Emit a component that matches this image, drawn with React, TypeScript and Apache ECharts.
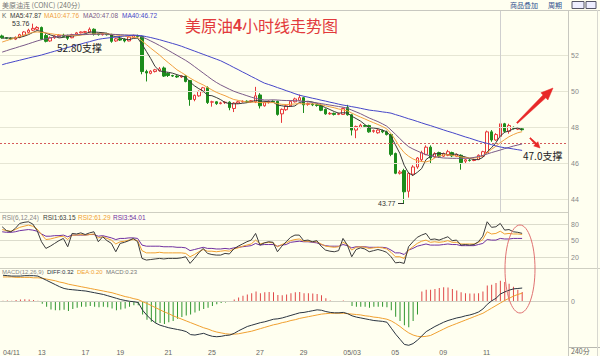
import React, { useEffect, useRef } from 'react';
import * as echarts from 'echarts';

// ---------- data ----------
const N = 130; // category slots (120 bars + empty space on the right)
const tickIndex = [0, 8, 18, 26, 37, 47, 58, 68, 78, 89, 100, 110];
const tickLabels = ['04/11', '13', '17', '19', '21', '25', '27', '29', '05/03', '05', '09', '11'];

const open = [
  53.08, 52.98, 52.95, 52.9, 53.0, 53.12, 53.28, 53.4, 53.45, 53.55,
  53.1, 52.8, 52.98, 53.05, 53.12, 53.1, 52.98, 53.18, 53.25, 53.28,
  53.3, 53.45, 53.2, 53.15, 53.2, 53.15, 52.8, 52.92, 52.9, 52.8,
  53.0, 53.1, 53.05, 51.1, 51.0, 51.1, 51.15, 51.3, 51.0, 50.88,
  50.85, 50.8, 50.85, 50.6, 49.55, 49.75, 49.98, 50.2, 49.4, 49.42,
  49.32, 49.38, 49.4, 49.05, 49.35, 49.42, 49.45, 49.42, 49.42, 49.8,
  49.2, 49.38, 49.45, 49.45, 48.75, 48.98, 49.2, 49.42, 49.5, 49.65,
  49.28, 49.3, 49.25, 49.22, 49.0, 48.75, 48.78, 48.72, 48.72, 49.1,
  48.7, 47.85, 48.0, 48.1, 48.1, 47.78, 47.7, 47.82, 47.75, 47.6,
  46.55, 45.45, 45.6, 44.45, 45.4, 45.8, 46.2, 46.5, 46.9, 46.35,
  46.6, 46.4, 46.45, 46.6, 46.4, 46.45, 46.12, 46.18, 46.16, 46.22,
  46.4, 46.6, 47.75, 47.3, 47.5, 48.2, 47.78, 48.0, 47.9, 47.92,
];
const close = [
  52.98, 52.95, 52.92, 53.0, 53.15, 53.3, 53.4, 53.5, 53.55, 52.9,
  52.78, 52.98, 53.08, 53.12, 53.05, 52.95, 53.15, 53.25, 53.3, 53.32,
  53.45, 53.18, 53.15, 53.22, 53.15, 52.78, 52.92, 52.85, 52.8, 53.02,
  53.1, 53.05, 51.1, 51.02, 51.12, 51.2, 51.25, 50.85, 50.88, 50.85,
  50.8, 50.86, 50.55, 49.55, 49.78, 50.0, 50.2, 49.38, 49.42, 49.32,
  49.36, 49.4, 49.1, 49.35, 49.42, 49.45, 49.42, 49.48, 49.75, 49.2,
  49.4, 49.45, 49.42, 48.72, 49.0, 49.2, 49.45, 49.58, 49.65, 49.25,
  49.32, 49.25, 49.22, 48.95, 48.75, 48.78, 48.72, 48.76, 49.05, 48.7,
  47.85, 48.05, 48.12, 48.06, 47.75, 47.82, 47.85, 47.75, 47.6, 46.5,
  45.45, 45.52, 44.42, 45.45, 45.8, 46.3, 46.6, 46.9, 46.3, 46.55,
  46.4, 46.55, 46.65, 46.42, 46.5, 46.05, 46.2, 46.16, 46.2, 46.45,
  46.65, 47.75, 47.3, 47.6, 48.2, 47.78, 48.1, 47.95, 47.98, 47.87,
];
const low = [
  52.92, 52.9, 52.85, 52.85, 52.95, 53.08, 53.22, 53.35, 53.4, 52.85,
  52.72, 52.75, 52.92, 53.0, 53.0, 52.85, 52.95, 53.15, 53.22, 53.25,
  53.25, 53.1, 53.1, 53.1, 53.1, 52.7, 52.75, 52.8, 52.72, 52.78,
  52.98, 52.98, 50.95, 50.55, 50.95, 51.05, 51.1, 50.8, 50.8, 50.8,
  50.75, 50.75, 50.5, 49.2, 49.45, 49.7, 49.95, 49.3, 49.15, 49.25,
  49.28, 49.3, 48.95, 48.85, 49.3, 49.38, 49.36, 49.38, 49.35, 49.05,
  49.15, 49.32, 49.38, 48.65, 48.25, 48.92, 49.15, 49.38, 49.45, 48.8,
  49.2, 49.18, 49.15, 48.9, 48.7, 48.7, 48.66, 48.68, 48.7, 48.65,
  47.55, 47.4, 47.95, 48.0, 47.7, 47.7, 47.65, 47.68, 47.55, 46.4,
  45.4, 45.38, 43.77, 44.1, 45.3, 45.7, 46.1, 46.45, 46.0, 46.3,
  46.3, 46.35, 46.4, 46.35, 46.35, 45.65, 46.0, 46.1, 46.12, 46.18,
  46.35, 46.55, 47.2, 47.25, 47.45, 47.7, 47.65, 47.88, 47.85, 47.82,
];
const high = [
  53.15, 53.02, 53.0, 53.05, 53.2, 53.35, 53.48, 53.76, 53.62, 53.6,
  53.2, 53.05, 53.12, 53.18, 53.2, 53.15, 53.2, 53.3, 53.33, 53.36,
  53.55, 53.5, 53.25, 53.27, 53.25, 53.2, 52.98, 52.98, 52.95, 53.08,
  53.15, 53.15, 53.1, 51.2, 51.18, 51.25, 51.35, 51.38, 51.05, 50.92,
  50.9, 50.9, 50.9, 50.62, 49.82, 50.05, 50.25, 50.28, 49.48, 49.45,
  49.42, 49.45, 49.45, 49.4, 49.48, 49.5, 49.5, 49.52, 50.25, 49.9,
  49.45, 49.5, 49.5, 49.48, 49.05, 49.25, 49.5, 49.65, 49.82, 49.7,
  49.38, 49.35, 49.3, 49.28, 49.05, 48.85, 48.82, 48.82, 49.1, 49.25,
  48.75, 48.1, 48.2, 48.15, 48.15, 47.88, 47.9, 47.88, 47.82, 47.65,
  46.6, 45.62, 45.7, 45.5, 45.9, 46.35, 46.7, 47.0, 47.0, 46.62,
  46.65, 46.6, 46.75, 46.65, 46.55, 46.5, 46.25, 46.24, 46.26, 46.5,
  46.7, 47.82, 47.85, 47.68, 48.3, 48.25, 48.2, 48.05, 48.02, 47.98,
];
const ma5 = [
  52.95, 52.97, 52.96, 52.96, 53.0, 53.06, 53.15, 53.27, 53.38, 53.33,
  53.23, 53.14, 53.06, 52.97, 53.0, 53.04, 53.07, 53.1, 53.14, 53.2,
  53.29, 53.3, 53.28, 53.26, 53.23, 53.1, 53.04, 52.98, 52.9, 52.87,
  52.94, 52.96, 52.62, 52.22, 51.82, 51.38, 51.14, 51.09, 51.06, 51.01,
  50.93, 50.85, 50.79, 50.52, 50.31, 50.15, 50.02, 49.78, 49.76, 49.66,
  49.54, 49.38, 49.32, 49.31, 49.31, 49.34, 49.37, 49.42, 49.5, 49.46,
  49.45, 49.42, 49.41, 49.24, 49.2, 49.16, 49.16, 49.19, 49.38, 49.43,
  49.45, 49.41, 49.34, 49.2, 49.1, 48.99, 48.88, 48.79, 48.81, 48.8,
  48.62, 48.49, 48.35, 48.16, 47.97, 47.96, 47.93, 47.85, 47.76, 47.5,
  47.03, 46.56, 45.9, 45.47, 45.33, 45.5, 45.71, 46.21, 46.39, 46.53,
  46.55, 46.54, 46.49, 46.51, 46.51, 46.41, 46.36, 46.27, 46.21, 46.21,
  46.33, 46.64, 46.87, 47.15, 47.52, 47.73, 47.8, 47.92, 47.96, 47.87,
];
const ma10 = [
  52.74, 52.82, 52.9, 52.97, 53.05, 53.12, 53.2, 53.28, 53.3, 53.28,
  53.25, 53.21, 53.17, 53.14, 53.12, 53.1, 53.1, 53.11, 53.13, 53.15,
  53.18, 53.19, 53.2, 53.21, 53.2, 53.17, 53.14, 53.1, 53.06, 53.03,
  53.01, 53.0, 52.8, 52.6, 52.4, 52.21, 52.02, 51.8, 51.6, 51.4,
  51.2, 51.05, 50.9, 50.74, 50.6, 50.47, 50.36, 50.22, 50.08, 49.95,
  49.85, 49.76, 49.65, 49.55, 49.5, 49.45, 49.41, 49.4, 49.4, 49.38,
  49.37, 49.37, 49.38, 49.32, 49.28, 49.27, 49.28, 49.3, 49.32, 49.31,
  49.3, 49.31, 49.3, 49.26, 49.2, 49.14, 49.09, 49.02, 48.97, 48.92,
  48.8, 48.68, 48.57, 48.47, 48.36, 48.26, 48.16, 48.05, 47.92, 47.65,
  47.3, 46.9, 46.6, 46.4, 46.25, 46.15, 46.1, 46.08, 46.15, 46.3,
  46.42, 46.47, 46.48, 46.45, 46.4, 46.36, 46.32, 46.3, 46.3, 46.33,
  46.42, 46.6, 46.78, 46.95, 47.15, 47.32, 47.48, 47.6, 47.7, 47.76,
];
const ma20 = [
  52.18, 52.26, 52.34, 52.41, 52.49, 52.56, 52.64, 52.72, 52.8, 52.87,
  52.92, 52.97, 53.02, 53.06, 53.1, 53.13, 53.14, 53.15, 53.16, 53.16,
  53.17, 53.17, 53.18, 53.18, 53.18, 53.17, 53.16, 53.15, 53.14, 53.13,
  53.12, 53.11, 53.02, 52.92, 52.8, 52.68, 52.55, 52.42, 52.28, 52.14,
  52.0, 51.86, 51.72, 51.56, 51.38, 51.2, 51.02, 50.84, 50.66, 50.5,
  50.36, 50.24, 50.12, 50.01, 49.92, 49.84, 49.76, 49.68, 49.61, 49.56,
  49.52, 49.52, 49.53, 49.52, 49.5, 49.49, 49.49, 49.48, 49.47, 49.45,
  49.42, 49.39, 49.36, 49.32, 49.28, 49.24, 49.2, 49.16, 49.12, 49.06,
  48.96, 48.86, 48.76, 48.64, 48.52, 48.42, 48.32, 48.2, 48.07, 47.85,
  47.62, 47.38, 47.14, 46.93, 46.8, 46.69, 46.58, 46.48, 46.42, 46.37,
  46.33, 46.3, 46.29, 46.28, 46.28, 46.28, 46.28, 46.29, 46.33, 46.38,
  46.44, 46.52, 46.6, 46.67, 46.74, 46.82, 46.89, 46.96, 47.02, 47.08,
];
const ma40 = [
  51.48, 51.55, 51.61, 51.67, 51.73, 51.79, 51.85, 51.91, 51.96, 52.02,
  52.09, 52.16, 52.23, 52.3, 52.37, 52.44, 52.5, 52.57, 52.63, 52.7,
  52.76, 52.83, 52.89, 52.93, 52.96, 52.99, 53.02, 53.05, 53.08, 53.1,
  53.12, 53.11, 53.09, 53.04, 52.99, 52.93, 52.87, 52.8, 52.73, 52.66,
  52.59, 52.51, 52.42, 52.33, 52.24, 52.15, 52.06, 51.97, 51.88, 51.79,
  51.7, 51.58, 51.46, 51.33, 51.21, 51.08, 50.96, 50.83, 50.71, 50.58,
  50.46, 50.38, 50.3, 50.21, 50.13, 50.04, 49.96, 49.87, 49.79, 49.73,
  49.68, 49.62, 49.57, 49.51, 49.46, 49.4, 49.35, 49.29, 49.24, 49.2,
  49.15, 49.11, 49.06, 49.01, 48.96, 48.93, 48.9, 48.86, 48.83, 48.79,
  48.71, 48.64, 48.56, 48.48, 48.41, 48.33, 48.25, 48.17, 48.1, 48.02,
  47.94, 47.86, 47.78, 47.71, 47.63, 47.55, 47.47, 47.4, 47.32, 47.24,
  47.17, 47.11, 47.04, 46.97, 46.91, 46.87, 46.84, 46.8, 46.76, 46.72,
];
const rsi1 = [
  75, 68, 66, 72, 81, 83, 84, 80, 68, 48,
  36, 40, 45, 50, 54, 39, 63, 62, 64, 61,
  64, 66, 48, 57, 50, 45, 30, 45, 47, 50,
  54, 48, 18, 15, 16, 17, 18, 17, 18, 18,
  18, 19, 21, 9, 18, 28, 36, 27, 25, 24,
  24, 27, 26, 35, 40, 44, 48, 51, 63, 42,
  46, 48, 47, 30, 40, 48, 56, 60, 60, 50,
  51, 48, 50, 40, 33, 31, 30, 32, 54, 42,
  21, 34, 37, 35, 30, 32, 34, 32, 29, 21,
  10, 11, 9, 39, 48, 56, 60, 63, 52, 53,
  51, 54, 57, 50, 51, 42, 43, 42, 43, 48,
  58, 84, 74, 75, 81, 69, 70, 66, 65, 63.15,
];
const rsi2 = [
  70, 68, 67, 70, 74, 76, 78, 76, 71, 61,
  52, 53, 55, 57, 58, 52, 60, 60, 61, 60,
  61, 62, 55, 57, 54, 51, 44, 48, 49, 51,
  52, 50, 32, 28, 28, 28, 29, 28, 28, 28,
  28, 28, 27, 21, 25, 30, 34, 31, 31, 30,
  31, 32, 31, 35, 37, 40, 42, 44, 51, 44,
  46, 47, 46, 39, 43, 46, 50, 52, 53, 49,
  49, 48, 48, 44, 40, 39, 38, 39, 47, 43,
  33, 38, 39, 38, 36, 37, 38, 37, 35, 29,
  21, 21, 18, 33, 39, 45, 49, 51, 47, 48,
  47, 48, 50, 47, 47, 44, 44, 44, 44, 47,
  52, 66, 62, 63, 67, 62, 63, 62, 62, 61.29,
];
const rsi3 = [
  66, 65, 65, 66, 68, 69, 70, 69, 67, 62,
  58, 58, 59, 59, 60, 57, 60, 60, 60, 60,
  61, 61, 58, 59, 57, 55, 52, 54, 54, 55,
  55, 54, 42, 40, 40, 40, 40, 39, 39, 39,
  38, 38, 37, 32, 34, 36, 38, 36, 36, 35,
  35, 36, 35, 37, 38, 39, 40, 41, 45, 42,
  43, 43, 43, 40, 42, 43, 47, 48, 49, 48,
  48, 47, 46, 43, 41, 40, 40, 40, 43, 41,
  37, 39, 39, 39, 38, 38, 38, 38, 37, 33,
  28, 28, 25, 33, 36, 40, 42, 44, 42, 42,
  42, 43, 44, 43, 43, 41, 41, 41, 41, 43,
  45, 52, 51, 51, 54, 53, 53, 54, 54, 54.01,
];
const diff = [
  0.62, 0.61, 0.6, 0.6, 0.6, 0.61, 0.61, 0.61, 0.6, 0.55,
  0.5, 0.45, 0.4, 0.35, 0.31, 0.29, 0.28, 0.27, 0.26, 0.25,
  0.23, 0.21, 0.19, 0.17, 0.14, 0.11, 0.08, 0.05, 0.03, 0.01,
  0.0, -0.02, -0.2, -0.32, -0.42, -0.5, -0.55, -0.58, -0.61, -0.63,
  -0.65, -0.67, -0.7, -0.77, -0.78, -0.76, -0.74, -0.78, -0.81, -0.82,
  -0.81, -0.79, -0.78, -0.74, -0.68, -0.63, -0.58, -0.55, -0.52, -0.49,
  -0.47, -0.44, -0.41, -0.4, -0.38, -0.35, -0.32, -0.29, -0.26, -0.25,
  -0.23, -0.21, -0.19, -0.2, -0.23, -0.25, -0.26, -0.26, -0.25, -0.28,
  -0.33, -0.36, -0.38, -0.4, -0.42, -0.44, -0.45, -0.46, -0.48, -0.62,
  -0.76, -0.88, -1.0, -1.02, -0.98, -0.9, -0.8, -0.7, -0.64, -0.58,
  -0.53, -0.48, -0.44, -0.41, -0.38, -0.36, -0.33, -0.31, -0.28, -0.24,
  -0.17, -0.06, 0.02, 0.08, 0.18, 0.23, 0.27, 0.3, 0.31, 0.32,
];
const dea = [
  0.58, 0.58, 0.58, 0.57, 0.57, 0.57, 0.57, 0.56, 0.56, 0.55,
  0.53, 0.51, 0.49, 0.46, 0.44, 0.41, 0.39, 0.37, 0.35, 0.33,
  0.31, 0.29, 0.27, 0.25, 0.23, 0.21, 0.18, 0.15, 0.12, 0.1,
  0.07, 0.05, 0.0, -0.04, -0.09, -0.14, -0.19, -0.24, -0.28, -0.33,
  -0.37, -0.41, -0.45, -0.49, -0.53, -0.57, -0.61, -0.64, -0.68, -0.71,
  -0.73, -0.75, -0.76, -0.76, -0.75, -0.73, -0.71, -0.69, -0.66, -0.63,
  -0.6, -0.57, -0.54, -0.52, -0.49, -0.47, -0.44, -0.42, -0.39, -0.37,
  -0.35, -0.33, -0.31, -0.29, -0.28, -0.27, -0.27, -0.27, -0.27, -0.28,
  -0.29, -0.3, -0.31, -0.33, -0.34, -0.36, -0.37, -0.39, -0.41, -0.45,
  -0.51, -0.58, -0.66, -0.73, -0.78, -0.81, -0.82, -0.81, -0.79, -0.74,
  -0.69, -0.64, -0.59, -0.55, -0.51, -0.47, -0.43, -0.39, -0.35, -0.31,
  -0.27, -0.21, -0.15, -0.09, -0.03, 0.03, 0.08, 0.13, 0.17, 0.2,
];
const macd = [
  0.02, 0.03, 0.02, 0.04, 0.05, 0.06, 0.05, 0.04, 0.02, -0.05,
  -0.12, -0.18, -0.2, -0.2, -0.19, -0.22, -0.17, -0.14, -0.12, -0.12,
  -0.1, -0.12, -0.13, -0.12, -0.13, -0.16, -0.2, -0.18, -0.16, -0.12,
  -0.08, -0.08, -0.3, -0.42, -0.47, -0.5, -0.5, -0.52, -0.48, -0.45,
  -0.4, -0.36, -0.32, -0.3, -0.25, -0.21, -0.17, -0.14, -0.1, -0.06,
  -0.03, -0.02, 0.0, 0.05, 0.1, 0.14, 0.17, 0.2, 0.24, 0.2,
  0.22, 0.23, 0.22, 0.16, 0.15, 0.17, 0.2, 0.22, 0.23, 0.2,
  0.2, 0.19, 0.18, 0.15, 0.08, 0.03, 0.01, 0.0, 0.03, 0.01,
  -0.1, -0.12, -0.12, -0.12, -0.14, -0.12, -0.12, -0.12, -0.13, -0.2,
  -0.35, -0.45, -0.55, -0.6, -0.45, -0.3, 0.24, 0.28, 0.28, 0.3,
  0.32, 0.34, 0.33, 0.3, 0.26, 0.22, 0.2, 0.19, 0.19, 0.2,
  0.24, 0.38, 0.4, 0.44, 0.49, 0.46, 0.42, 0.35, 0.28, 0.23,
];
const gridPrices = [44, 46, 48, 50, 52];
const rsiLevels = [20, 50, 80];
const supportLevel = 47.1;
const cursorIndex = 114;
const highLabel = '53.76';
const lowLabel = '43.77';

// ---------- style ----------
const BG = '#fffff0';
const UP = '#e8383a';
const DOWN = '#1b8c1b';
const C_MA5 = '#3a3a3a';
const C_MA10 = '#f0a040';
const C_MA20 = '#7a5a88';
const C_MA40 = '#4646c8';
const C_R1 = '#3c3c3c';
const C_R2 = '#f0a030';
const C_R3 = '#7030a0';
const FONT = '"Liberation Sans", "Noto Sans CJK SC", sans-serif';
const CJK = '"Noto Sans CJK SC", "Liberation Sans", sans-serif';

const categories = Array.from({ length: N }, (_, i) => {
  const k = tickIndex.indexOf(i);
  return k >= 0 ? tickLabels[k] : 'k' + i;
});

const last = (a: number[]) => a[a.length - 1];
const fx = (v: number) => v.toFixed(2);

function txt(x: number, y: number, text: string, fill: string, size = 7, family = FONT, extra: any = {}) {
  return {
    type: 'text', x, y, silent: true, z: 100,
    style: { text, fill, fontSize: size, fontFamily: family, align: 'left', verticalAlign: 'middle', ...extra },
  };
}
function hline(y: number, x1: number, x2: number, stroke = '#cfcfc0') {
  return { type: 'line', silent: true, z: 90, shape: { x1, y1: y, x2, y2: y }, style: { stroke, lineWidth: 1 } };
}
function vline(x: number, y1: number, y2: number, stroke = '#cfcfc0') {
  return { type: 'line', silent: true, z: 90, shape: { x1: x, y1, x2: x, y2 }, style: { stroke, lineWidth: 1 } };
}

function buildOption() {
  const grids = [
    { left: 0, top: 10, width: 568, height: 202.7 },
    { left: 0, top: 212.9, width: 568, height: 55.5 },
    { left: 0, top: 268.4, width: 568, height: 78.6 },
  ];
  const xAxis = [0, 1, 2].map((g) => ({
    type: 'category',
    gridIndex: g,
    data: categories,
    boundaryGap: true,
    show: g === 2,
    axisLine: { show: g === 2, lineStyle: { color: '#b8b8b0' } },
    axisTick: { show: false },
    splitLine: { show: false },
    axisLabel:
      g === 2
        ? {
            show: true,
            interval: (i: number) => tickIndex.indexOf(i) >= 0,
            formatter: (v: string) => (v.charAt(0) === 'k' ? '' : v),
            align: 'left',
            fontSize: 7,
            color: '#666',
            margin: 2,
            fontFamily: FONT,
          }
        : { show: false },
  }));
  const yLabel = (show: (v: number) => boolean) => ({
    fontSize: 7,
    color: '#888',
    margin: 3,
    fontFamily: FONT,
    formatter: (v: number) => (show(v) ? String(Math.round(v)) : ''),
  });
  const yAxis = [
    {
      type: 'value', gridIndex: 0, position: 'right', min: 43.26, max: 54.52, scale: true,
      splitLine: { show: false }, axisLine: { show: false }, axisTick: { show: false },
      axisLabel: yLabel((v) => gridPrices.some((p) => Math.abs(p - v) < 1e-6)),
    },
    {
      type: 'value', gridIndex: 1, position: 'right', min: 0, max: 100, interval: 10,
      splitLine: { show: false }, axisLine: { show: false }, axisTick: { show: false },
      axisLabel: yLabel((v) => rsiLevels.some((p) => Math.abs(p - v) < 1e-6)),
    },
    {
      type: 'value', gridIndex: 2, position: 'right', min: -1.06, max: 0.78,
      splitLine: { show: false }, axisLine: { show: false }, axisTick: { show: false },
      axisLabel: yLabel((v) => Math.abs(v) < 1e-6),
    },
  ];

  const line = (name: string, data: number[], color: string, xi: number, z = 5) => ({
    name, type: 'line', data, xAxisIndex: xi, yAxisIndex: xi, showSymbol: false, symbol: 'none',
    lineStyle: { color, width: 1 }, itemStyle: { color }, z, silent: true,
  });

  const series: any[] = [
    {
      name: 'K', type: 'candlestick', xAxisIndex: 0, yAxisIndex: 0, barWidth: 3, z: 3,
      data: open.map((o, i) => [o, close[i], low[i], high[i]]),
      itemStyle: { color: BG, color0: DOWN, borderColor: UP, borderColor0: DOWN, borderWidth: 1 },
      markLine: {
        silent: true, symbol: ['none', 'none'], label: { show: false }, animation: false,
        data: [
          ...gridPrices.map((p) => ({ yAxis: p, lineStyle: { color: '#e6e6d4', type: 'solid', width: 1 } })),
          { yAxis: supportLevel, lineStyle: { color: '#d65a5a', type: [2, 2], width: 1 } },
          { xAxis: categories[cursorIndex], lineStyle: { color: '#cfcfcf', type: 'solid', width: 1 } },
        ],
      },
    },
    line('MA5', ma5, C_MA5, 0, 6),
    line('MA10', ma10, C_MA10, 0, 6),
    line('MA20', ma20, C_MA20, 0, 6),
    line('MA40', ma40, C_MA40, 0, 6),
    {
      ...line('RSI1', rsi1, C_R1, 1, 7),
      markLine: {
        silent: true, symbol: ['none', 'none'], label: { show: false }, animation: false,
        data: rsiLevels.map((p) => ({ yAxis: p, lineStyle: { color: '#dcdccc', type: 'solid', width: 1 } })),
      },
    },
    line('RSI2', rsi2, C_R2, 1, 6),
    line('RSI3', rsi3, C_R3, 1, 5),
    {
      name: 'MACD', type: 'bar', xAxisIndex: 2, yAxisIndex: 2, barWidth: 1, silent: true, z: 3,
      data: macd.map((v) => ({ value: v, itemStyle: { color: v >= 0 ? '#e04848' : '#2f962f' } })),
      markLine: {
        silent: true, symbol: ['none', 'none'], label: { show: false }, animation: false,
        data: [{ yAxis: 0, lineStyle: { color: '#d0d0c4', type: 'solid', width: 1 } }],
      },
    },
    line('DIFF', diff, '#2a3440', 2, 6),
    line('DEA', dea, '#f0a030', 2, 5),
  ];

  const graphic: any[] = [
    // frame lines
    hline(10.5, 0, 600, '#c8c8c0'),
    hline(212.5, 0, 568, '#cfcfc2'),
    hline(268.5, 0, 600, '#cfcfc2'),
    hline(347.5, 568, 600, '#b8b8b0'),
    vline(568.5, 10, 356, '#c8c8c0'),
    vline(597.5, 10, 356, '#d8d8d0'),
    // toolbar
    txt(2, 5, '美原油连 (CONC) (240分)', '#777', 7, CJK),
    txt(510, 5, '商品叠加', '#2f4f8f', 7, CJK),
    txt(548, 5, '周期', '#2f4f8f', 7, CJK),
    { type: 'rect', silent: true, z: 90, shape: { x: 572, y: 1.5, width: 12, height: 7 }, style: { fill: '#eef', stroke: '#556' } },
    { type: 'rect', silent: true, z: 90, shape: { x: 586, y: 1.5, width: 10, height: 7 }, style: { fill: '#eef', stroke: '#556' } },
    // MA legend
    txt(2, 15, 'K', '#666', 6.5),
    txt(10, 15, 'MA5:' + fx(last(ma5)), C_MA5, 6.5),
    txt(44, 15, 'MA10:' + fx(last(ma10)), C_MA10, 6.5),
    txt(83, 15, 'MA20:' + fx(last(ma20)), C_MA20, 6.5),
    txt(122, 15, 'MA40:' + fx(last(ma40)), C_MA40, 6.5),
    // title
    {
      type: 'text', x: 185, y: 25, silent: true, z: 100,
      style: {
        text: '{n|美原油}{b|4}{n|小时线走势图}',
        align: 'left', verticalAlign: 'middle',
        rich: {
          n: { fontSize: 16, fontFamily: CJK, fill: '#e23a3c', color: '#e23a3c' },
          b: { fontSize: 16, fontWeight: 'bold', fontFamily: FONT, fill: '#e23a3c', color: '#e23a3c' },
        },
      },
    },
    // annotations
    txt(12, 23.5, highLabel, '#333', 7),
    txt(57, 47, '52.80支撑', '#222', 10, CJK),
    txt(378, 203, lowLabel, '#333', 7),
    hline(203.5, 398, 404, '#333'),
    txt(523, 155, '47.0支撑', '#222', 10, CJK),
    {
      type: 'polygon', silent: true, z: 100,
      shape: { points: [[516.5, 122.5], [543.0, 95.0], [540.9, 92.8], [553, 88], [547.9, 100.0], [545.8, 97.8], [517.5, 123.5]] },
      style: { fill: '#e82828', stroke: '#e82828', lineWidth: 0.5 },
    },
    {
      type: 'polygon', silent: true, z: 100,
      shape: { points: [[530.4, 137.6], [536.5, 143.1], [537.9, 141.7], [540, 148], [533.7, 145.9], [535.1, 144.5], [529.6, 138.4]] },
      style: { fill: '#e82828', stroke: '#e82828', lineWidth: 0.5 },
    },
    {
      type: 'ellipse', silent: true, z: 100,
      shape: { cx: 520, cy: 269, rx: 15, ry: 44 },
      style: { fill: 'none', stroke: '#e07272', lineWidth: 1 },
    },
    // sub-panel titles
    txt(2, 217, 'RSI(6,12,24)', '#888', 6.5),
    txt(43, 217, 'RSI1:' + fx(last(rsi1)), C_R1, 6.5),
    txt(78, 217, 'RSI2:' + fx(last(rsi2)), C_R2, 6.5),
    txt(113, 217, 'RSI3:' + fx(last(rsi3)), C_R3, 6.5),
    txt(2, 271.5, 'MACD(12,26,9)', '#888', 6),
    txt(47, 271.5, 'DIFF:' + fx(last(diff)), '#2a3440', 6),
    txt(77, 271.5, 'DEA:' + fx(last(dea)), '#f0a030', 6),
    txt(106, 271.5, 'MACD:' + fx(last(macd)), '#777', 6),
    txt(571, 351, '240分', '#666', 7, CJK),
  ];

  return {
    animation: false,
    backgroundColor: BG,
    textStyle: { fontFamily: FONT },
    grid: grids,
    xAxis,
    yAxis,
    series,
    graphic,
  };
}

export default function App() {
  const ref = useRef<HTMLDivElement>(null);
  useEffect(() => {
    document.body.style.margin = '0';
    const chart = echarts.init(ref.current as HTMLDivElement, null, { renderer: 'svg' });
    chart.setOption(buildOption() as any);
    return () => chart.dispose();
  }, []);
  return <div ref={ref} style={{ position: 'fixed', left: 0, top: 0, width: 600, height: 356, background: BG }} />;
}
